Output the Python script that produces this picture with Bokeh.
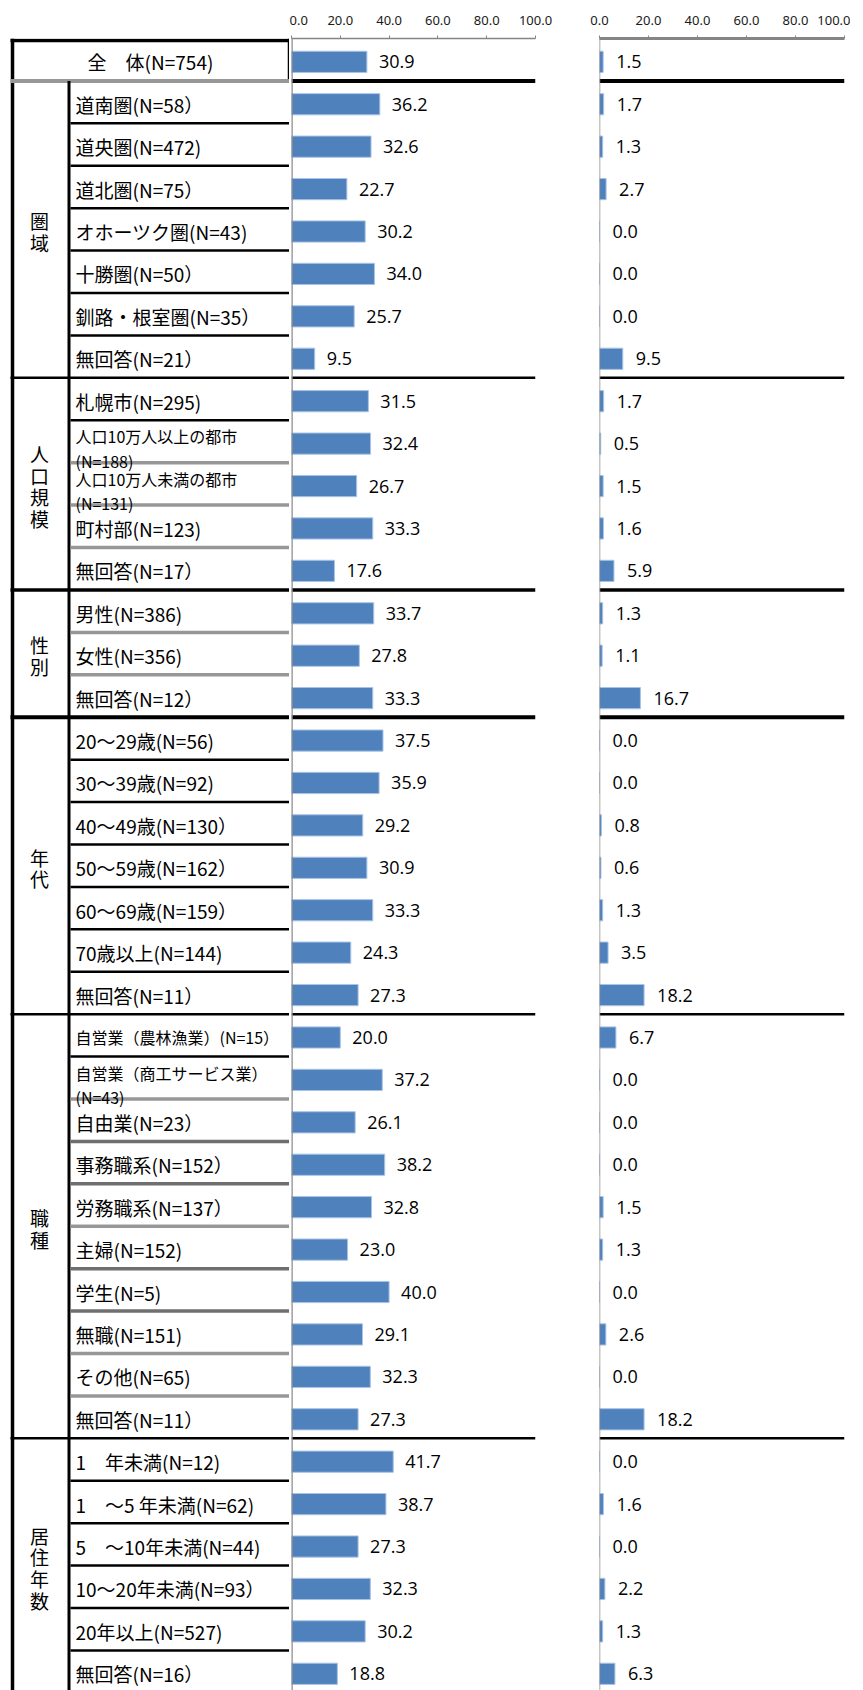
from bokeh.plotting import figure
from bokeh.models import Range1d, ColumnDataSource, Span, FixedTicker, NumeralTickFormatter
from bokeh.layouts import row
from bokeh.core.properties import value
from bokeh.embed import file_html
from bokeh.resources import INLINE

# ---------------- data ----------------
categories = [
    "全　体(N=754)",
    "道南圏(N=58）", "道央圏(N=472)", "道北圏(N=75）", "オホーツク圏(N=43)",
    "十勝圏(N=50）", "釧路・根室圏(N=35）", "無回答(N=21）",
    "札幌市(N=295)", "人口10万人以上の都市\n(N=188)", "人口10万人未満の都市\n(N=131)",
    "町村部(N=123)", "無回答(N=17）",
    "男性(N=386)", "女性(N=356)", "無回答(N=12）",
    "20～29歳(N=56)", "30～39歳(N=92)", "40～49歳(N=130）", "50～59歳(N=162）",
    "60～69歳(N=159）", "70歳以上(N=144)", "無回答(N=11）",
    "自営業（農林漁業）(N=15）", "自営業（商工サービス業）\n(N=43)", "自由業(N=23）",
    "事務職系(N=152）", "労務職系(N=137）", "主婦(N=152)", "学生(N=5)",
    "無職(N=151)", "その他(N=65)", "無回答(N=11）",
    "1　年未満(N=12)", "1　～5 年未満(N=62)", "5　～10年未満(N=44)",
    "10～20年未満(N=93）", "20年以上(N=527)", "無回答(N=16）",
]
group_names = ["圏域", "人口規模", "性別", "年代", "職種", "居住年数"]
group_sizes = [7, 5, 3, 7, 10, 6]

series_left = [
    30.9,
    36.2, 32.6, 22.7, 30.2, 34.0, 25.7, 9.5,
    31.5, 32.4, 26.7, 33.3, 17.6,
    33.7, 27.8, 33.3,
    37.5, 35.9, 29.2, 30.9, 33.3, 24.3, 27.3,
    20.0, 37.2, 26.1, 38.2, 32.8, 23.0, 40.0, 29.1, 32.3, 27.3,
    41.7, 38.7, 27.3, 32.3, 30.2, 18.8,
]
series_right = [
    1.5,
    1.7, 1.3, 2.7, 0.0, 0.0, 0.0, 9.5,
    1.7, 0.5, 1.5, 1.6, 5.9,
    1.3, 1.1, 16.7,
    0.0, 0.0, 0.8, 0.6, 1.3, 3.5, 18.2,
    6.7, 0.0, 0.0, 0.0, 1.5, 1.3, 0.0, 2.6, 0.0, 18.2,
    0.0, 1.6, 0.0, 2.2, 1.3, 6.3,
]
tick_values = [0, 20, 40, 60, 80, 100]

# ---------------- styles ----------------
inner_styles = ["bbbbbb", "bggg", "gg", "bbbbbb", "bgddgddgg", "bbbbb"]
group_line_widths = [2.5, 3.5, 4, 2.5, 2.5]
BAR = "#4F81BD"
BAR_EDGE = "#a9c4e6"
GREY_SEP = "#979797"
JP = "Noto Sans CJK JP"
NUM = "Open Sans"

ROW_PX = 42.42
TOP = 38
FRAME_H = 1690 - TOP
n = len(categories)
y_rng = Range1d(start=FRAME_H / ROW_PX, end=0)

# row bookkeeping derived from group sizes
bounds = [1]
for s in group_sizes:
    bounds.append(bounds[-1] + s)
group_lines = bounds[1:-1]

yc = [i + 0.55 for i in range(n)]


def base_fig(**kw):
    f = figure(y_range=y_rng, output_backend="svg", toolbar_location=None,
               frame_height=FRAME_H, min_border_top=TOP, min_border_bottom=0,
               background_fill_color="white", border_fill_color="white", **kw)
    f.outline_line_color = None
    f.grid.visible = False
    return f


# ---------------- table figure ----------------
t = base_fig(frame_width=289, x_range=Range1d(0, 289),
             x_axis_location=None, y_axis_location=None,
             min_border_left=0, min_border_right=0)

# outer frame of the table
t.segment(x0=[12], y0=[0], x1=[12], y1=[n], line_color="black", line_width=3.5)
t.segment(x0=[10], y0=[0.045], x1=[289], y1=[0.045], line_color="black", line_width=3.5)
t.segment(x0=[288.5], y0=[0], x1=[288.5], y1=[1], line_color="black", line_width=2.5)
t.segment(x0=[10], y0=[1], x1=[289], y1=[1], line_color=GREY_SEP, line_width=4)
t.segment(x0=[68.5], y0=[1], x1=[68.5], y1=[n], line_color="black", line_width=3)

# group separators
t.segment(x0=[10] * len(group_lines), x1=[289] * len(group_lines),
          y0=group_lines, y1=group_lines, line_color="black",
          line_width=group_line_widths)

# separators inside groups
sep = {"b": [], "g": [], "d": []}
for gi, start in enumerate(bounds[:-1]):
    for j, st in enumerate(inner_styles[gi]):
        sep[st].append(start + j + 1)
sep_style = {"b": ("black", 2.5), "g": (GREY_SEP, 3.5), "d": ("#6f6f6f", 3.5)}
for k, ys in sep.items():
    if ys:
        c, w = sep_style[k]
        t.segment(x0=[70] * len(ys), x1=[289] * len(ys), y0=ys, y1=ys,
                  line_color=c, line_width=w)

# item labels
item_src = ColumnDataSource(dict(
    x=[75] * (n - 1),
    y=yc[1:],
    text=categories[1:],
    fs=["16px" if ("\n" in c or "（" in c) else "19px" for c in categories[1:]],
    dy=[5 if "\n" in c else 0 for c in categories[1:]],
))
t.text(x="x", y="y", text="text", source=item_src, text_font=value(JP),
       text_font_size="fs", y_offset="dy", text_align="left",
       text_baseline="middle", text_color="black", text_line_height=1.03)

t.text(x=[150], y=[yc[0]], text=[categories[0]], text_font=value(JP),
       text_font_size="19px", text_align="center", text_baseline="middle",
       text_color="black")

# vertical group labels
gy = [(bounds[i] + bounds[i + 1]) / 2 + 0.05 for i in range(len(group_names))]
t.text(x=[39] * len(group_names), y=gy, text=["\n".join(g) for g in group_names],
       text_font=value(JP), text_font_size="19px", text_align="center",
       text_baseline="middle", text_color="black", text_line_height=0.8)


# ---------------- bar panels ----------------
def bar_panel(vals, frame_w, left_border, right_border, axis_w, vline_w, x_off):
    f = base_fig(frame_width=frame_w, x_range=Range1d(0, 100),
                 x_axis_location="above", y_axis_location=None,
                 min_border_left=left_border, min_border_right=right_border)
    ax = f.xaxis[0]
    ax.ticker = FixedTicker(ticks=tick_values)
    ax.formatter = NumeralTickFormatter(format="0.0")
    ax.axis_line_color = "#858585"
    ax.axis_line_width = axis_w
    ax.major_tick_line_color = "#858585"
    ax.major_tick_out = 3
    ax.major_tick_in = 0
    ax.minor_tick_line_color = None
    ax.major_label_standoff = 11
    ax.major_label_text_font = "Noto Sans"
    ax.major_label_text_font_size = "13px"
    ax.major_label_text_color = "#1a1a1a"

    src = ColumnDataSource(dict(y=yc, v=vals, lab=["%.1f" % v for v in vals]))
    f.hbar(y="y", left=0, right="v", height=0.5, source=src,
           fill_color=BAR, line_color=BAR_EDGE, line_width=1)
    f.text(x="v", y="y", text="lab", source=src, x_offset=x_off,
           text_font=value(NUM), text_font_size="18px", text_align="left",
           text_baseline="middle", text_color="black")

    f.add_layout(Span(location=1, dimension="width", line_color="black", line_width=4))
    for k, w in zip(group_lines, group_line_widths):
        f.add_layout(Span(location=k, dimension="width", line_color="black", line_width=w))
    f.add_layout(Span(location=0, dimension="height", line_color="#8c8c8c",
                      line_width=vline_w))
    return f


left_panel = bar_panel(series_left, 244, 2, 25, 1.5, 2.5, 12)
right_panel = bar_panel(series_right, 245, 39, 6, 3, 1.5, 13)

layout = row(t, left_panel, right_panel)
open("out.html", "w").write(file_html(layout, INLINE))
